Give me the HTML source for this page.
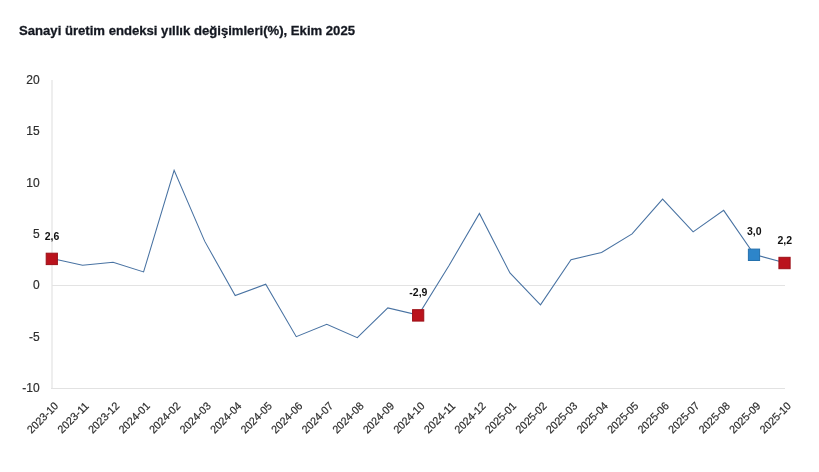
<!DOCTYPE html>
<html><head><meta charset="utf-8"><style>
html,body{margin:0;padding:0;background:#fff;}
svg{display:block;}
.title{font-family:"Liberation Sans",sans-serif;font-weight:bold;font-size:13.5px;fill:#141821;stroke:#141821;stroke-width:0.3px;}
.yl{font-family:"Liberation Sans",sans-serif;font-size:12px;fill:#2e2e2e;stroke:#2e2e2e;stroke-width:0.2px;text-anchor:end;}
.xl{font-family:"Liberation Sans",sans-serif;font-size:11px;fill:#2e2e2e;stroke:#2e2e2e;stroke-width:0.2px;text-anchor:end;}
.dl{font-family:"Liberation Sans",sans-serif;font-weight:bold;font-size:10.5px;fill:#111;text-anchor:middle;}
</style></head><body>
<svg width="819" height="472" viewBox="0 0 819 472">
<text x="19" y="34.8" class="title" textLength="336" lengthAdjust="spacingAndGlyphs">Sanayi üretim endeksi yıllık değişimleri(%), Ekim 2025</text>
<rect x="51" y="80" width="2" height="309" fill="#eeeeee"/>
<line x1="52" y1="285.5" x2="785" y2="285.5" stroke="#e3e3e3" stroke-width="1"/>
<line x1="51" y1="388.5" x2="785" y2="388.5" stroke="#e2e2e2" stroke-width="1"/>
<text x="39.6" y="83.8" class="yl">20</text>
<text x="39.6" y="135.2" class="yl">15</text>
<text x="39.6" y="186.5" class="yl">10</text>
<text x="39.6" y="237.9" class="yl">5</text>
<text x="39.6" y="289.2" class="yl">0</text>
<text x="39.6" y="340.5" class="yl">-5</text>
<text x="39.6" y="391.9" class="yl">-10</text>
<polyline points="52.00,258.60 82.53,265.27 113.06,262.19 143.59,271.95 174.12,170.28 204.65,241.14 235.18,295.57 265.71,284.27 296.24,336.65 326.77,324.33 357.30,337.68 387.83,307.89 418.36,315.08 448.89,265.79 479.42,213.41 509.95,272.98 540.48,304.81 571.01,259.62 601.54,252.44 632.07,233.95 662.60,199.03 693.13,231.90 723.66,210.33 754.19,254.49 784.72,262.71" fill="none" stroke="#4872a2" stroke-width="1.05" stroke-linejoin="miter"/>
<rect x="46.20" y="253.20" width="11.2" height="11.4" fill="#ba131d" stroke="#9c1018" stroke-width="1"/>
<text x="52.00" y="239.60" class="dl">2,6</text>
<rect x="412.56" y="309.68" width="11.2" height="11.4" fill="#ba131d" stroke="#9c1018" stroke-width="1"/>
<text x="418.36" y="296.08" class="dl">-2,9</text>
<rect x="748.39" y="249.09" width="11.2" height="11.4" fill="#2d85ca" stroke="#2470ad" stroke-width="1"/>
<text x="754.19" y="235.49" class="dl">3,0</text>
<rect x="778.92" y="257.31" width="11.2" height="11.4" fill="#ba131d" stroke="#9c1018" stroke-width="1"/>
<text x="784.72" y="243.71" class="dl">2,2</text>
<text transform="translate(56.20,403.8) rotate(-45)" x="0" y="4" class="xl" textLength="38.8" lengthAdjust="spacingAndGlyphs">2023-10</text>
<text transform="translate(86.73,403.8) rotate(-45)" x="0" y="4" class="xl" textLength="38.8" lengthAdjust="spacingAndGlyphs">2023-11</text>
<text transform="translate(117.26,403.8) rotate(-45)" x="0" y="4" class="xl" textLength="38.8" lengthAdjust="spacingAndGlyphs">2023-12</text>
<text transform="translate(147.79,403.8) rotate(-45)" x="0" y="4" class="xl" textLength="38.8" lengthAdjust="spacingAndGlyphs">2024-01</text>
<text transform="translate(178.32,403.8) rotate(-45)" x="0" y="4" class="xl" textLength="38.8" lengthAdjust="spacingAndGlyphs">2024-02</text>
<text transform="translate(208.85,403.8) rotate(-45)" x="0" y="4" class="xl" textLength="38.8" lengthAdjust="spacingAndGlyphs">2024-03</text>
<text transform="translate(239.38,403.8) rotate(-45)" x="0" y="4" class="xl" textLength="38.8" lengthAdjust="spacingAndGlyphs">2024-04</text>
<text transform="translate(269.91,403.8) rotate(-45)" x="0" y="4" class="xl" textLength="38.8" lengthAdjust="spacingAndGlyphs">2024-05</text>
<text transform="translate(300.44,403.8) rotate(-45)" x="0" y="4" class="xl" textLength="38.8" lengthAdjust="spacingAndGlyphs">2024-06</text>
<text transform="translate(330.97,403.8) rotate(-45)" x="0" y="4" class="xl" textLength="38.8" lengthAdjust="spacingAndGlyphs">2024-07</text>
<text transform="translate(361.50,403.8) rotate(-45)" x="0" y="4" class="xl" textLength="38.8" lengthAdjust="spacingAndGlyphs">2024-08</text>
<text transform="translate(392.03,403.8) rotate(-45)" x="0" y="4" class="xl" textLength="38.8" lengthAdjust="spacingAndGlyphs">2024-09</text>
<text transform="translate(422.56,403.8) rotate(-45)" x="0" y="4" class="xl" textLength="38.8" lengthAdjust="spacingAndGlyphs">2024-10</text>
<text transform="translate(453.09,403.8) rotate(-45)" x="0" y="4" class="xl" textLength="38.8" lengthAdjust="spacingAndGlyphs">2024-11</text>
<text transform="translate(483.62,403.8) rotate(-45)" x="0" y="4" class="xl" textLength="38.8" lengthAdjust="spacingAndGlyphs">2024-12</text>
<text transform="translate(514.15,403.8) rotate(-45)" x="0" y="4" class="xl" textLength="38.8" lengthAdjust="spacingAndGlyphs">2025-01</text>
<text transform="translate(544.68,403.8) rotate(-45)" x="0" y="4" class="xl" textLength="38.8" lengthAdjust="spacingAndGlyphs">2025-02</text>
<text transform="translate(575.21,403.8) rotate(-45)" x="0" y="4" class="xl" textLength="38.8" lengthAdjust="spacingAndGlyphs">2025-03</text>
<text transform="translate(605.74,403.8) rotate(-45)" x="0" y="4" class="xl" textLength="38.8" lengthAdjust="spacingAndGlyphs">2025-04</text>
<text transform="translate(636.27,403.8) rotate(-45)" x="0" y="4" class="xl" textLength="38.8" lengthAdjust="spacingAndGlyphs">2025-05</text>
<text transform="translate(666.80,403.8) rotate(-45)" x="0" y="4" class="xl" textLength="38.8" lengthAdjust="spacingAndGlyphs">2025-06</text>
<text transform="translate(697.33,403.8) rotate(-45)" x="0" y="4" class="xl" textLength="38.8" lengthAdjust="spacingAndGlyphs">2025-07</text>
<text transform="translate(727.86,403.8) rotate(-45)" x="0" y="4" class="xl" textLength="38.8" lengthAdjust="spacingAndGlyphs">2025-08</text>
<text transform="translate(758.39,403.8) rotate(-45)" x="0" y="4" class="xl" textLength="38.8" lengthAdjust="spacingAndGlyphs">2025-09</text>
<text transform="translate(788.92,403.8) rotate(-45)" x="0" y="4" class="xl" textLength="38.8" lengthAdjust="spacingAndGlyphs">2025-10</text>
</svg>
</body></html>
